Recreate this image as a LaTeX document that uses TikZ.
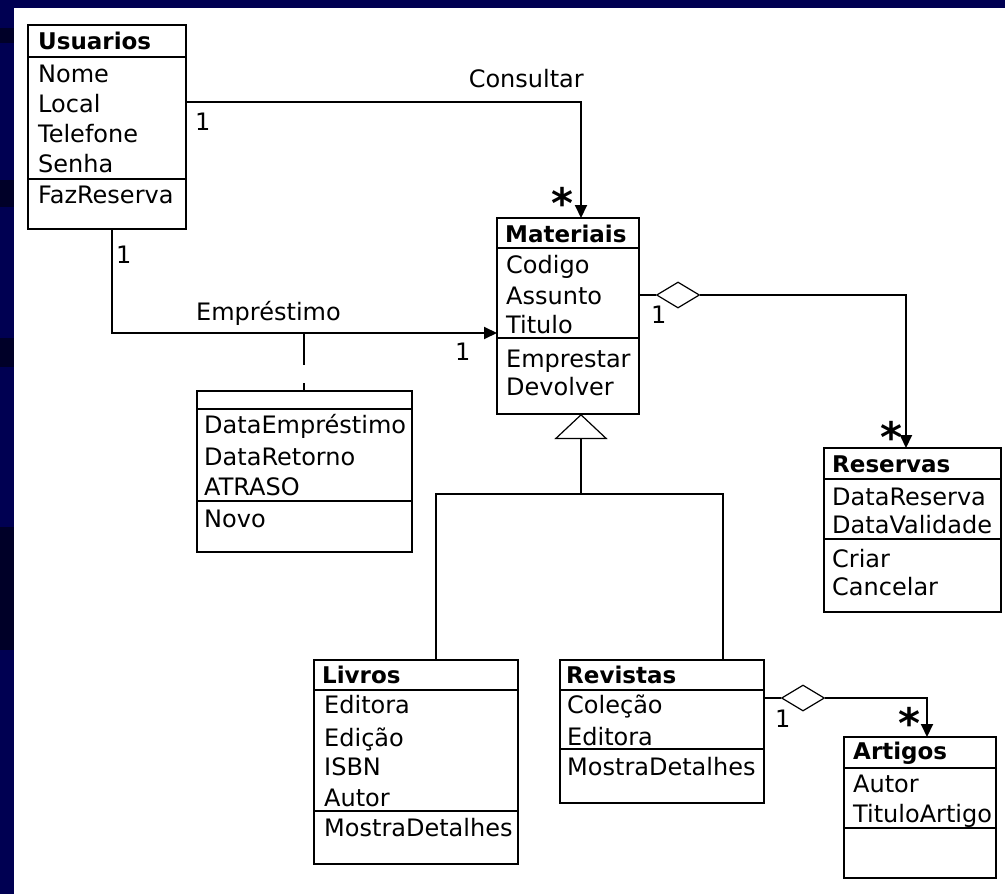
\documentclass[tikz,border=0pt]{standalone}
\usepackage{fontspec}
\setmainfont{DejaVu Sans}
\usetikzlibrary{positioning,arrows.meta,shapes.geometric}
\definecolor{slidenavy}{RGB}{0,0,82}
\definecolor{slidedark}{RGB}{0,0,40}
\newcommand{\manystar}{\raisebox{-0.4em}[0.36em][0pt]{*}}

\begin{document}
\begin{tikzpicture}[x=1pt,y=-1pt,
	line/.style={line width=2pt},
	box/.style={draw,line width=2pt,anchor=north west,inner sep=0pt,outer sep=0pt},
	txt/.style={anchor=base west,inner sep=0pt,font=\fontsize{24}{28}\selectfont},
	hdr/.style={txt,font=\fontsize{23}{28}\selectfont\bfseries},
	star/.style={anchor=center,inner sep=0pt,font=\fontsize{42}{42}\selectfont\bfseries},
	assoc/.style={line,-{Triangle[length=13pt,width=12pt]}},
	agg/.style={draw,diamond,line width=1.2pt,minimum width=43pt,minimum height=26pt,inner sep=0pt,fill=white},
	genarrow/.style={line,-{Triangle[open,length=25pt,width=53pt,line width=1.2pt]}}]
	\useasboundingbox (0,0) rectangle (1005,894);

	% slide background
	\fill[slidenavy] (0,0) rectangle (1005,894);
	\fill[slidedark] (0,28) rectangle (14,43);
	\fill[slidedark] (0,180) rectangle (14,207);
	\fill[slidedark] (0,338) rectangle (14,367);
	\fill[slidedark] (0,527) rectangle (14,650);
	\fill[white] (14,8) rectangle (1005,894);

	% class boxes
	\node[box,minimum width=158pt,minimum height=204pt] (usu) at (28,25) {};
	\node[box,minimum width=142pt,minimum height=196pt] (mat) at (497,218) {};
	\node[box,minimum width=177pt,minimum height=164pt] (res) at (824,448) {};
	\node[box,minimum width=215pt,minimum height=161pt] (emp) at (197,391) {};
	\node[box,minimum width=204pt,minimum height=204pt] (liv) at (314,660) {};
	\node[box,minimum width=204pt,minimum height=143pt] (rev) at (560,660) {};
	\node[box,minimum width=152pt,minimum height=141pt] (art) at (844,737) {};

	\foreach \b/\y in {usu/57,usu/179,mat/248,mat/338,res/479,res/539,emp/409,emp/501,
		liv/690,liv/811,rev/690,rev/749,art/768,art/828}
		\draw[line] (\b.west |- 0,\y) -- (\b.east |- 0,\y);

	% names
	\node[hdr] (usu-h) at (38,49) {Usuarios};
	\node[hdr] (mat-h) at (505,242) {Materiais};
	\node[hdr] (res-h) at (832,472) {Reservas};
	\node[hdr] (liv-h) at (322,683) {Livros};
	\node[hdr] (rev-h) at (566,683) {Revistas};
	\node[hdr] (art-h) at (853,759) {Artigos};

	% attributes and operations
	\foreach \t/\y [count=\i] in {Nome/82,Local/112,Telefone/142,Senha/172,FazReserva/203}
		\node[txt] (usu-\i) at (38,\y) {\t};
	\foreach \t/\y [count=\i] in {Codigo/273,Assunto/304,Titulo/333,Emprestar/367,Devolver/395}
		\node[txt] (mat-\i) at (506,\y) {\t};
	\foreach \t/\y [count=\i] in {DataReserva/505,DataValidade/533,Criar/567,Cancelar/595}
		\node[txt] (res-\i) at (832,\y) {\t};
	\foreach \t/\y [count=\i] in {DataEmpréstimo/433,DataRetorno/465,ATRASO/495,Novo/527}
		\node[txt] (emp-\i) at (204,\y) {\t};
	\foreach \t/\y [count=\i] in {Editora/713,Edição/746,ISBN/775,Autor/806,MostraDetalhes/836}
		\node[txt] (liv-\i) at (324,\y) {\t};
	\foreach \t/\y [count=\i] in {Coleção/713,Editora/745,MostraDetalhes/775}
		\node[txt] (rev-\i) at (567,\y) {\t};
	\foreach \t/\y [count=\i] in {Autor/792,TituloArtigo/822}
		\node[txt] (art-\i) at (853,\y) {\t};

	% Consultar
	\draw[assoc] (usu.east |- 0,102) -| (mat.north -| 581,0);
	\node[txt,anchor=base east] (consultar) at (584,87) {Consultar};
	\node[txt] (m-cons) at (195,130) {1};
	\node[star] (s-cons) at (562,194) {\manystar};

	% Emprestimo
	\draw[assoc] (usu.south -| 112,0) |- (mat.west |- 0,333);
	\coordinate (lnk) at (304,333);
	\draw[line,dash pattern=on 32pt off 18pt] (lnk) -- (emp.north -| lnk);
	\node[txt] (emprestimo) at (196,320) {Empréstimo};
	\node[txt] (m-emp1) at (116,263) {1};
	\node[txt] (m-emp2) at (455,360) {1};

	% Reservas
	\node[agg] (dres) at (678,295) {};
	\draw[line] (mat.east |- dres) -- (dres.west);
	\draw[assoc] (dres.east) -| (res.north -| 906,0);
	\node[txt] (m-res) at (651,323) {1};
	\node[star] (s-res) at (891,428) {\manystar};

	% Artigos
	\node[agg] (dart) at (803,698) {};
	\draw[line] (rev.east |- dart) -- (dart.west);
	\draw[assoc] (dart.east) -| (art.north -| 927,0);
	\node[txt] (m-art) at (775,727) {1};
	\node[star] (s-art) at (909,714) {\manystar};

	% generalization
	\coordinate (genjoin) at (581,494);
	\draw[line] (liv.north -| 436,0) |- (genjoin) -| (rev.north -| 723,0);
	\draw[genarrow] (genjoin) -- (mat.south -| genjoin);
\end{tikzpicture}
\end{document}
